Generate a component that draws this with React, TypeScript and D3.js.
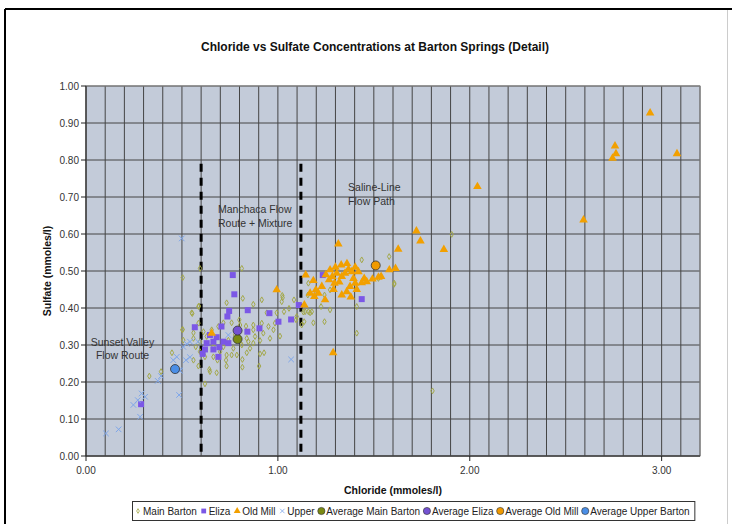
import * as d3 from "d3";

const W = 732;
const H = 524;
const mLeft = 86;
const mRight = 700;
const mTop = 86;
const mBottom = 456;

const xTicks = [0, 1, 2, 3];
const yTicks = [0, 0.1, 0.2, 0.3, 0.4, 0.5, 0.6, 0.7, 0.8, 0.9, 1.0];
const boundaries = [0.6, 1.12];

// [chloride, sulfate] in mmoles/l
const mainBarton = [
  [0.504, 0.482], [0.551, 0.387], [0.504, 0.342], [0.594, 0.507], [0.586, 0.404], [0.56, 0.333],
  [0.507, 0.313], [0.33, 0.216], [0.391, 0.228], [0.448, 0.279], [0.554, 0.385], [0.589, 0.405],
  [0.502, 0.341], [0.733, 0.414], [0.817, 0.426], [1.023, 0.434], [1.058, 0.399], [0.942, 0.387],
  [0.994, 0.387], [1.032, 0.39], [1.095, 0.368], [1.133, 0.389], [1.168, 0.387], [0.872, 0.354],
  [0.916, 0.359], [0.951, 0.35], [0.977, 0.341], [1.011, 0.324], [0.959, 0.318], [0.907, 0.312],
  [0.846, 0.309], [0.872, 0.305], [0.928, 0.279], [0.815, 0.261], [0.902, 0.243], [0.815, 0.24],
  [0.73, 0.259], [0.646, 0.228], [0.62, 0.195], [0.586, 0.243], [0.56, 0.259], [0.733, 0.243],
  [0.685, 0.259], [0.768, 0.291], [0.759, 0.273], [0.812, 0.3], [0.838, 0.318], [0.881, 0.323],
  [0.855, 0.291], [0.907, 0.276], [0.799, 0.368], [0.803, 0.354], [0.834, 0.351], [0.872, 0.341],
  [0.924, 0.332], [0.985, 0.359], [0.586, 0.359], [0.612, 0.336], [0.56, 0.318], [0.572, 0.295],
  [0.594, 0.282], [0.62, 0.268], [0.664, 0.268], [0.699, 0.282], [0.733, 0.273], [0.629, 0.323],
  [0.655, 0.341], [0.69, 0.35], [0.716, 0.36], [0.759, 0.36], [0.777, 0.327], [0.742, 0.313],
  [0.716, 0.295], [0.664, 0.295], [0.594, 0.309], [0.786, 0.273], [0.838, 0.279], [0.643, 0.234],
  [0.681, 0.225], [1.137, 0.363], [1.02, 0.417], [0.916, 0.422], [0.872, 0.41], [0.812, 0.507],
  [1.025, 0.428], [1.084, 0.422], [1.159, 0.467], [1.159, 0.39], [1.437, 0.53], [1.58, 0.539],
  [1.156, 0.435], [1.177, 0.39], [1.142, 0.39], [1.225, 0.404], [1.272, 0.395], [1.243, 0.435],
  [1.272, 0.449], [1.185, 0.36], [1.243, 0.363], [1.411, 0.404], [1.411, 0.332], [1.524, 0.48],
  [1.607, 0.467], [1.098, 0.377], [1.124, 0.354], [1.906, 0.599], [1.606, 0.464], [1.806, 0.176],
];

const eliza = [
  [0.765, 0.489], [0.773, 0.437], [0.746, 0.392], [0.843, 0.394], [0.956, 0.386], [1.003, 0.363],
  [1.069, 0.369], [1.109, 0.408], [0.737, 0.377], [0.706, 0.35], [0.841, 0.336], [0.904, 0.345],
  [0.567, 0.348], [0.681, 0.321], [0.664, 0.309], [0.629, 0.305], [0.62, 0.288], [0.664, 0.288],
  [0.695, 0.294], [0.716, 0.309], [0.742, 0.305], [0.69, 0.268], [0.608, 0.276], [0.646, 0.327],
  [0.287, 0.14], [1.234, 0.489], [1.437, 0.424],
];

const oldMill = [
  [2.94, 0.927], [2.757, 0.838], [2.762, 0.817], [2.744, 0.805], [3.08, 0.817], [2.04, 0.728],
  [2.593, 0.638], [1.865, 0.558], [1.722, 0.608], [1.743, 0.581], [1.627, 0.559], [1.581, 0.503],
  [1.613, 0.507], [1.538, 0.485], [1.315, 0.573], [1.145, 0.489], [1.185, 0.474], [1.272, 0.503],
  [1.33, 0.516], [1.307, 0.494], [1.284, 0.485], [1.295, 0.467], [1.368, 0.505], [1.385, 0.498],
  [1.403, 0.51], [1.35, 0.494], [1.333, 0.485], [1.267, 0.476], [1.229, 0.458], [1.198, 0.449],
  [1.168, 0.44], [1.19, 0.431], [1.211, 0.44], [1.246, 0.422], [1.138, 0.408], [1.333, 0.435],
  [1.359, 0.444], [1.376, 0.458], [1.403, 0.467], [1.411, 0.45], [1.437, 0.468], [1.463, 0.471],
  [1.493, 0.478], [1.524, 0.483], [1.42, 0.498], [1.394, 0.48], [0.994, 0.449], [1.288, 0.279],
  [0.655, 0.332], [1.3, 0.51], [1.36, 0.52], [1.25, 0.49], [1.32, 0.47], [1.38, 0.43],
  [1.45, 0.48], [1.29, 0.45],
];

const upper = [
  [0.374, 0.203], [0.391, 0.216], [0.29, 0.169], [0.308, 0.16], [0.27, 0.151], [0.247, 0.138],
  [0.282, 0.106], [0.17, 0.072], [0.104, 0.061], [0.485, 0.165], [0.49, 0.23], [0.525, 0.303],
  [0.542, 0.309], [0.507, 0.295], [0.473, 0.268], [0.455, 0.259], [0.521, 0.259], [0.542, 0.267],
  [0.486, 0.232], [1.069, 0.261], [0.742, 0.327], [0.584, 0.309], [0.499, 0.588],
];

const avgMain = [0.79, 0.316];
const avgEliza = [0.79, 0.339];
const avgOldMill = [1.51, 0.515];
const avgUpper = [0.464, 0.235];

const legendLabels = [
  "Main Barton", "Eliza", "Old Mill", "Upper",
  "Average Main Barton", "Average Eliza", "Average Old Mill", "Average Upper Barton",
];

const font = '"Liberation Sans", Arial, sans-serif';

const x = d3.scaleLinear().domain([0, 3.2]).range([mLeft, mRight]);
const y = d3.scaleLinear().domain([0, 1]).range([mBottom, mTop]);

const gridX = d3.range(0, 33).map((i) => i / 10);
const gridY = d3.range(0, 11).map((i) => i / 10);

const diamond = d3.symbol(d3.symbolDiamond, 10)();
const square = d3.symbol(d3.symbolSquare, 36)();
const triangle = d3.symbol(d3.symbolTriangle, 32)();
const cross = d3.symbol(d3.symbolTimes, 22)();

// marker drawing for each legend entry
const markers = [
  (k) => <path key={k} d={diamond} fill="none" stroke="#a3a84a" strokeWidth={1} />,
  (k) => <path key={k} d={square} fill="#7b57e6" />,
  (k) => <path key={k} d={triangle} fill="#f2a000" />,
  (k) => <path key={k} d={cross} fill="none" stroke="#7ea6ea" strokeWidth={1} />,
  (k) => <circle key={k} r={4.5} fill="#7a8a12" stroke="#333" strokeWidth={0.8} />,
  (k) => <circle key={k} r={4.5} fill="#7452d2" stroke="#333" strokeWidth={0.8} />,
  (k) => <circle key={k} r={4.5} fill="#f09a00" stroke="#333" strokeWidth={0.8} />,
  (k) => <circle key={k} r={4.5} fill="#4a8ee6" stroke="#333" strokeWidth={0.8} />,
];

function textWidth(s, size) {
  const ctx = document.createElement("canvas").getContext("2d");
  ctx.font = `${size}px ${font}`;
  return ctx.measureText(s).width;
}

export default function App() {
  // legend layout from measured text
  let cx = 138;
  const legendItems = legendLabels.map((label, i) => {
    const item = { label, mx: cx, tx: cx + 5, i };
    cx += 5 + textWidth(label, 10) + 6.8;
    return item;
  });

  const pts = (data, mk, key) =>
    data.map((d, i) => (
      <g key={key + i} transform={`translate(${x(d[0])},${y(d[1])})`}>
        {mk(i)}
      </g>
    ));

  return (
    <svg
      width={W}
      height={H}
      style={{ position: "absolute", left: 0, top: 0 }}
      fontFamily={font}
    >
      <rect x={0} y={0} width={W} height={H} fill="#fff" />
      <line x1={5} x2={W} y1={9} y2={9} stroke="#000" strokeWidth={2} />
      <line x1={5} x2={5} y1={9} y2={H} stroke="#000" strokeWidth={2} />
      <line x1={727.5} x2={727.5} y1={10} y2={H} stroke="#ccc" strokeWidth={1} />

      <text x={375} y={51} textAnchor="middle" fontSize={12} fontWeight="bold" fill="#111">
        Chloride vs Sulfate Concentrations at Barton Springs (Detail)
      </text>

      <rect x={mLeft} y={mTop} width={mRight - mLeft} height={mBottom - mTop} fill="#c3cbd9" />

      {gridX.map((v) => (
        <line key={"gx" + v} x1={x(v)} x2={x(v)} y1={mTop} y2={mBottom} stroke="#454545" strokeWidth={1} />
      ))}
      {gridY.map((v) => (
        <line key={"gy" + v} x1={mLeft} x2={mRight} y1={y(v)} y2={y(v)} stroke="#454545" strokeWidth={1} />
      ))}
      <rect x={mLeft} y={mTop} width={mRight - mLeft} height={mBottom - mTop} fill="none" stroke="#8a8a8a" strokeWidth={1} />

      {/* axes */}
      <line x1={mLeft} x2={mLeft} y1={mTop} y2={mBottom} stroke="#222" />
      <line x1={mLeft} x2={mRight} y1={mBottom} y2={mBottom} stroke="#222" />
      {yTicks.map((v) => (
        <g key={"yt" + v}>
          <line x1={mLeft - 5} x2={mLeft} y1={y(v)} y2={y(v)} stroke="#222" />
          <text x={mLeft - 7} y={y(v)} dy="0.35em" textAnchor="end" fontSize={10} fill="#333">
            {d3.format(".2f")(v)}
          </text>
        </g>
      ))}
      {xTicks.map((v) => (
        <g key={"xt" + v}>
          <line x1={x(v)} x2={x(v)} y1={mBottom} y2={mBottom + 5} stroke="#222" />
          <text x={x(v)} y={mBottom + 18} textAnchor="middle" fontSize={10} fill="#333">
            {d3.format(".2f")(v)}
          </text>
        </g>
      ))}

      <text x={393} y={494} textAnchor="middle" fontSize={10.5} fontWeight="bold" fill="#111">
        Chloride (mmoles/l)
      </text>
      <text
        transform={`translate(51,${(mTop + mBottom) / 2}) rotate(-90)`}
        textAnchor="middle"
        fontSize={10.5}
        fontWeight="bold"
        fill="#111"
      >
        Sulfate (mmoles/l)
      </text>

      {/* flow route boundaries */}
      {boundaries.map((v) => (
        <line
          key={"b" + v}
          x1={x(v)}
          x2={x(v)}
          y1={y(0.79)}
          y2={y(0)}
          stroke="#000"
          strokeWidth={3}
          strokeDasharray="8,6"
        />
      ))}

      <g fontSize={10.5} fill="#333">
        <text x={x(0.19)} y={y(0.298)} textAnchor="middle">Sunset Valley</text>
        <text x={x(0.19)} y={y(0.262)} textAnchor="middle">Flow Route</text>
        <text x={x(0.688)} y={y(0.657)}>Manchaca Flow</text>
        <text x={x(0.688)} y={y(0.619)}>Route + Mixture</text>
        <text x={x(1.366)} y={y(0.716)}>Saline-Line</text>
        <text x={x(1.366)} y={y(0.678)}>Flow Path</text>
      </g>

      {pts(mainBarton, markers[0], "mb")}
      {pts(eliza, markers[1], "el")}
      {pts(oldMill, markers[2], "om")}
      {pts(upper, markers[3], "up")}
      {pts([avgUpper], markers[7], "au")}
      {pts([avgMain], markers[4], "am")}
      {pts([avgEliza], markers[5], "ae")}
      {pts([avgOldMill], markers[6], "ao")}

      {/* legend */}
      <rect x={132.5} y={501.5} width={cx - 132 - 2} height={19} fill="#fff" stroke="#333" strokeWidth={1} />
      {legendItems.map((it) => (
        <g key={"lg" + it.i}>
          <g transform={`translate(${it.mx},511) scale(0.8)`}>{markers[it.i]("m")}</g>
          <text x={it.tx} y={511} dy="0.35em" fontSize={10} fill="#222">
            {it.label}
          </text>
        </g>
      ))}
    </svg>
  );
}
